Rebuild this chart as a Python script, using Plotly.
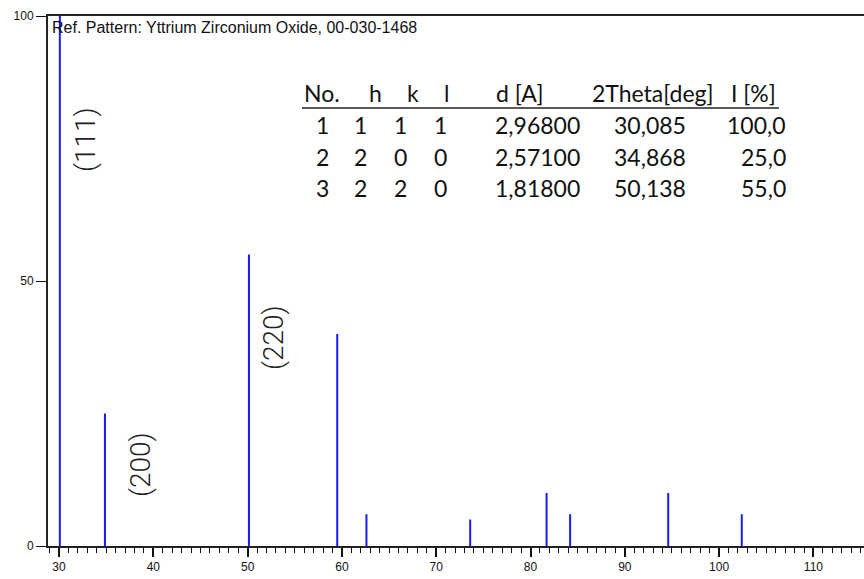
import plotly.graph_objects as go

# ---------------- data ----------------
peak_2theta = [30.085, 34.868, 50.138, 59.5, 62.6, 73.6, 81.7, 84.2, 94.6, 102.4]
peak_intensity = [100, 25, 55, 40, 6, 5, 10, 6, 10, 6]

hkl_labels = ["(111)", "(200)", "(220)"]

table_no = [1, 2, 3]
table_h = [1, 2, 2]
table_k = [1, 0, 2]
table_l = [1, 0, 0]
table_d = [2.96800, 2.57100, 1.81800]
table_2theta = [30.085, 34.868, 50.138]
table_I = [100.0, 25.0, 55.0]

header = ["No.", "h", "k", "l", "d [A]", "2Theta[deg]", "I [%]"]
x_ticks = [30, 40, 50, 60, 70, 80, 90, 100, 110]
y_ticks = [0, 50, 100]
ref_title = "Ref. Pattern: Yttrium Zirconium Oxide, 00-030-1468"

# ---------------- layout geometry (pixels) ----------------
W, H = 864, 579
L, R, T, B = 48, 0, 16, 33
PX_PER_DEG = 9.43
X0 = 28.83
X1 = X0 + (W - L - R) / PX_PER_DEG


def fx(p):
    return (p - L) / (W - L - R)


def fy(p):
    return (H - B - p) / (H - T - B)


def comma(v, nd):
    return f"{v:.{nd}f}".replace(".", ",")


xs, ys = [], []
for x, y in zip(peak_2theta, peak_intensity):
    xs += [x, x, None]
    ys += [0, y, None]

fig = go.Figure()
fig.add_trace(go.Scatter(x=xs, y=ys, mode="lines",
                         line=dict(color="#1a1aff", width=2),
                         hoverinfo="skip", showlegend=False))

annotations = []
# reference pattern title
annotations.append(dict(text=ref_title, xref="paper", yref="paper",
                        x=fx(50), y=fy(27), xanchor="left", yanchor="middle",
                        showarrow=False,
                        font=dict(family="Liberation Sans", size=16, color="#111")))

# rotated hkl labels
label_px = [(86, 140), (140, 465), (273, 338)]
for lab, (px, py) in zip(hkl_labels, label_px):
    annotations.append(dict(text=lab, xref="paper", yref="paper",
                            x=fx(px), y=fy(py), xanchor="center", yanchor="middle",
                            textangle=-90, showarrow=False,
                            font=dict(family="Roboto", size=28, color="#222",
                                      weight=300)))

# table
tfont = dict(family="Lato", size=23, color="#111")
header_px = [322, 375, 413, 446, 520, 653, 753]
for txt, px in zip(header, header_px):
    annotations.append(dict(text=txt, xref="paper", yref="paper",
                            x=fx(px), y=fy(93), xanchor="center", yanchor="middle",
                            showarrow=False, font=tfont))
row_py = [125, 157, 188]
for i in range(len(table_no)):
    cells = [str(table_no[i]), str(table_h[i]), str(table_k[i]), str(table_l[i]),
             comma(table_d[i], 5), comma(table_2theta[i], 3)]
    cols = [322, 360, 400, 440, 537, 650]
    for txt, px in zip(cells, cols):
        annotations.append(dict(text=txt, xref="paper", yref="paper",
                                x=fx(px), y=fy(row_py[i]), xanchor="center",
                                yanchor="middle", showarrow=False, font=tfont))
    annotations.append(dict(text=comma(table_I[i], 1), xref="paper", yref="paper",
                            x=fx(788), y=fy(row_py[i]), xanchor="right",
                            yanchor="middle", showarrow=False, font=tfont))

shapes = [dict(type="line", xref="paper", yref="paper",
               x0=fx(302), x1=fx(779), y0=fy(108), y1=fy(108),
               line=dict(color="#222", width=1.5))]

minor_ticks = list(range(29, 116))

tickfont = dict(family="Liberation Sans", size=12, color="#111")
fig.update_layout(
    width=W, height=H,
    margin=dict(l=L, r=R, t=T, b=B, pad=0),
    paper_bgcolor="white", plot_bgcolor="white",
    annotations=annotations, shapes=shapes, showlegend=False,
    xaxis=dict(range=[X0, X1], tickmode="array", tickvals=x_ticks,
               ticks="outside", ticklen=9,
               tickwidth=2, tickcolor="#111", showline=True, linewidth=2,
               linecolor="#222", mirror=True, showgrid=False, zeroline=False,
               tickfont=tickfont,
               minor=dict(tickmode="array", tickvals=minor_ticks,
                          ticks="outside", ticklen=5,
                          tickwidth=1, tickcolor="#111", showgrid=False)),
    yaxis=dict(range=[0, 100], tickvals=y_ticks, ticks="outside", ticklen=10,
               tickwidth=1, tickcolor="#111", showline=True, linewidth=2,
               linecolor="#222", showgrid=False, zeroline=False,
               tickfont=tickfont),
)

fig.write_html("out.html")
